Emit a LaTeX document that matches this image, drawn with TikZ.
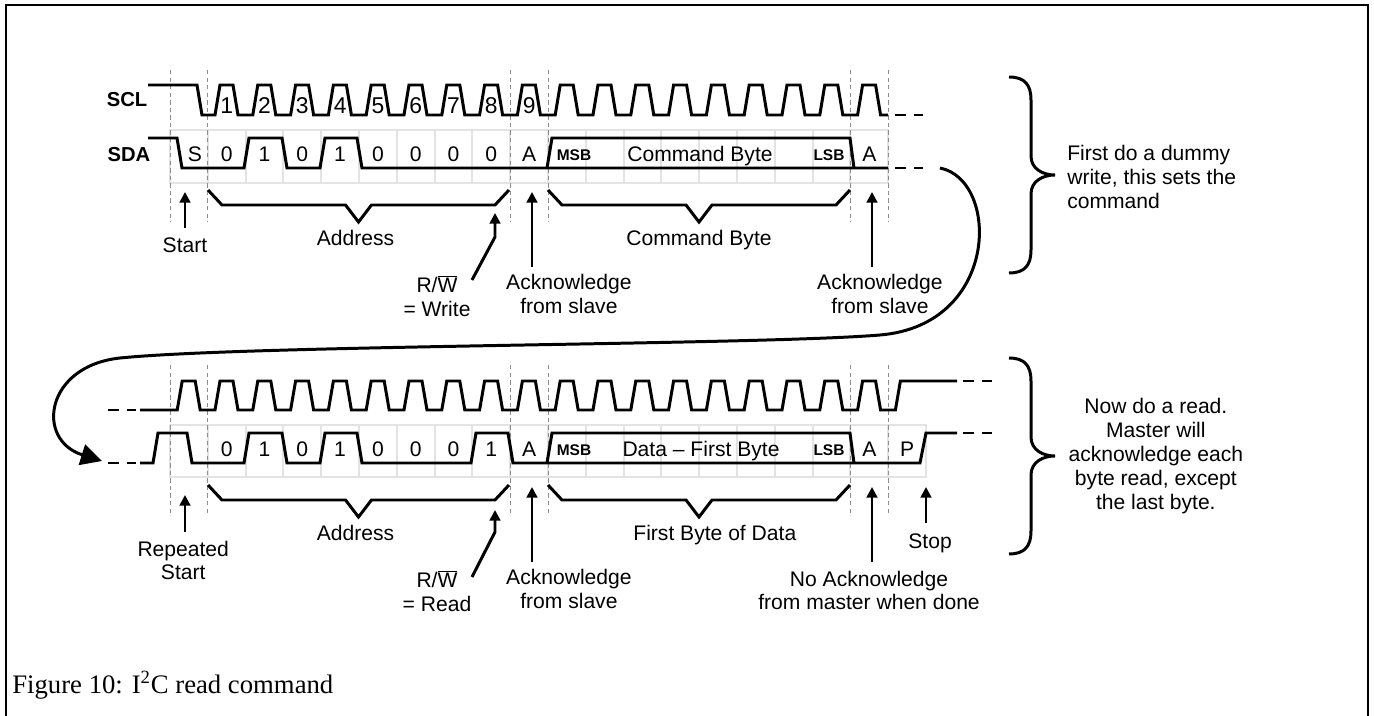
\documentclass[tikz,border=0pt]{standalone}
\usepackage{fontspec}
\setmainfont{Liberation Sans}
\newfontfamily\capfont{Liberation Serif}
\usetikzlibrary{arrows.meta,positioning}

% bus brace under a group of bits: name, x from, x to, y
\newcommand{\busbrace}[4]{%
  \draw[wave] (#2,#4) -- ++(14,15) -- ({(#2+#3)/2-13},#4+15) -- ({(#2+#3)/2},#4+32) coordinate (#1)
    -- ({(#2+#3)/2+13},#4+15) -- (#3-14,#4+15) -- (#3,#4);}
% curly brace on the right: name, x, y top, y bottom
\newcommand{\sidebrace}[4]{%
  \draw[wave] (#2,#3) .. controls (#2+16,#3) and (#2+22,#3+8) .. (#2+22,#3+23)
    -- (#2+22,{(#3+#4)/2-19}) .. controls (#2+22,{(#3+#4)/2-6}) and (#2+34,{(#3+#4)/2}) .. (#2+46,{(#3+#4)/2}) coordinate (#1)
    .. controls (#2+34,{(#3+#4)/2}) and (#2+22,{(#3+#4)/2+6}) .. (#2+22,{(#3+#4)/2+19})
    -- (#2+22,#4-23) .. controls (#2+22,#4-8) and (#2+16,#4) .. (#2,#4);}

\begin{document}
\begin{tikzpicture}[x=0.02cm, y=-0.02cm,
    wave/.style={line width=1.7pt},
    tail/.style={line width=1.7pt, dash pattern=on 6.3pt off 4.5pt},
    cell/.style={draw=black!11, line width=1.1pt},
    guide/.style={draw=black!45, line width=0.5pt, dash pattern=on 2.5pt off 1.8pt},
    ptr/.style={line width=1.7pt, -{Triangle[length=6pt,width=6pt]}},
    lbl/.style={inner sep=1pt, align=center, font=\fontsize{12}{13.6}\selectfont},
    bit/.style={inner sep=0pt, anchor=base, font=\fontsize{12}{14}\selectfont},
    clk/.style={inner sep=0pt, anchor=base, font=\fontsize{13}{15}\selectfont},
    sig/.style={inner sep=0pt, font=\bfseries\fontsize{11.5}{13}\selectfont},
    tag/.style={inner sep=0pt, anchor=base, font=\bfseries\fontsize{8.8}{10}\selectfont}]
  \useasboundingbox (0,0) rectangle (1374,716);
  \draw[line width=0.6pt] (6,716) -- (6,5) -- (1368,5) -- (1368,716);

  % ---- dummy write ----
  \foreach \k in {0,...,18} \draw[cell] ({170+37.8*\k},130) rectangle +(37.8,53);
  \foreach \k in {0,1,9,10,18,19} \draw[guide] ({170+37.8*\k},70) -- ({170+37.8*\k},222);
  \node[sig] (sclA) at (127,100) {SCL};
  \node[sig] (sdaA) at (129,155) {SDA};
  \draw[wave] (148,85) -- (197,85) -- (202,115)
    \foreach \k in {0,...,17} { -- ({215+37.8*\k},115) -- ({220+37.8*\k},85) -- ({233+37.8*\k},85) -- ({238+37.8*\k},115) }
    -- (888,115);
  \draw[tail] (895,115) -- (923,115);
  \foreach \i in {1,...,9} \node[clk] (clk\i) at ({226.7+37.8*(\i-1)},114) {\i};
  \draw[wave] (148,138) -- (177,138) -- (182,168) -- (244,168) -- (249,138) -- (282,138) -- (287,168)
    -- (320,168) -- (325,138) -- (357,138) -- (362,168) -- (888,168);
  \draw[wave] (547,168) -- (552,138) -- (850,138) -- (854,168);
  \draw[tail] (895,168) -- (923,168);
  \node[bit] (bitS) at (195,162) {S};
  \foreach \b [count=\i] in {0,1,0,1,0,0,0,0,A} \node[bit] (bitA\i) at ({170+37.8*(\i+0.5)},162) {\b};
  \node[tag] (msbA) at (574,161) {MSB};
  \node[bit] (cmdByte) at (700,162) {Command Byte};
  \node[tag] (lsbA) at (829,161) {LSB};
  \node[bit] (ackBitA) at (869.3,162) {A};

  \busbrace{addrTipA}{208}{509}{190}
  \busbrace{cmdTip}{548}{850}{190}
  \node[lbl, below=3.5pt of addrTipA, xshift=-1.7pt] (addrA) {Address};
  \node[lbl, below=3.5pt of cmdTip] (cmdA) {Command Byte};

  \coordinate (startFoot) at (185,228); \coordinate (startTip) at (185,192);
  \node[lbl, below=4.5pt of startFoot] (start) {Start};
  \draw[ptr] (startFoot) -- (startTip);
  \coordinate (rwWfoot) at (472,280); \coordinate (rwWtip) at (495,213);
  \node[lbl] (rwW) at (437,296) {R/$\overline{\mbox{W}}$\\= Write};
  \draw[ptr] (rwWfoot) -- ++(23,-43) -- (rwWtip);
  \coordinate (ackAfoot) at (532,267); \coordinate (ackAtip) at (532,192);
  \node[lbl, below=3pt of ackAfoot, xshift=21pt] (ackA) {Acknowledge\\from slave};
  \draw[ptr] (ackAfoot) -- (ackAtip);
  \coordinate (ackBfoot) at (872,267); \coordinate (ackBtip) at (872,192);
  \node[lbl, below=3pt of ackBfoot, xshift=4.5pt] (ackB) {Acknowledge\\from slave};
  \draw[ptr] (ackBfoot) -- (ackBtip);

  \sidebrace{noteTipA}{1009}{77}{273}
  \node[lbl, align=left, anchor=west, right=5.8pt of noteTipA, yshift=-1pt] (noteA) {First do a dummy\\write, this sets the\\command};

  % ---- read ----
  \foreach \k in {0,...,19} \draw[cell] ({170+37.8*\k},425) rectangle +(37.8,52);
  \foreach \k in {0,1,9,10,18,19} \draw[guide] ({170+37.8*\k},365) -- ({170+37.8*\k},515);
  \draw[tail] (108,410) -- (136,410);
  \draw[wave] (140,410)
    \foreach \k in {0,...,18} { -- ({177.2+37.8*\k},410) -- ({182.2+37.8*\k},381) -- ({195.2+37.8*\k},381) -- ({200.2+37.8*\k},410) }
    -- (895.4,410) -- (900.4,381) -- (957,381);
  \draw[tail] (963,381) -- (992,381);
  \draw[tail] (108,463) -- (136,463);
  \draw[wave] (140,463) -- (153,463) -- (158,433) -- (187,433) -- (192,463) -- (244,463) -- (249,433)
    -- (282,433) -- (287,463) -- (320,463) -- (325,433) -- (357,433) -- (362,463) -- (471,463)
    -- (476,433) -- (508,433) -- (513,463) -- (920,463) -- (926,433) -- (957,433);
  \draw[wave] (547,463) -- (552,433) -- (850,433) -- (854,463);
  \draw[tail] (963,433) -- (992,433);
  \foreach \b [count=\i] in {0,1,0,1,0,0,0,1,A} \node[bit] (bitB\i) at ({170+37.8*(\i+0.5)},457) {\b};
  \node[tag] (msbB) at (574,456) {MSB};
  \node[bit] (dataByte) at (701,457) {Data \textendash{} First Byte};
  \node[tag] (lsbB) at (829,456) {LSB};
  \node[bit] (ackBitB) at (869.3,457) {A};
  \node[bit] (stopBit) at (907.1,457) {P};

  \busbrace{addrTipB}{208}{509}{485}
  \busbrace{dataTip}{548}{850}{485}
  \node[lbl, below=3.5pt of addrTipB, xshift=-1.7pt] (addrB) {Address};
  \node[lbl, below=3.5pt of dataTip, xshift=9pt] (dataB) {First Byte of Data};

  \coordinate (rstartFoot) at (185,532); \coordinate (rstartTip) at (185,495);
  \node[lbl, below=3.8pt of rstartFoot, xshift=-1pt] (rstart) {Repeated\\Start};
  \draw[ptr] (rstartFoot) -- (rstartTip);
  \coordinate (rwRfoot) at (472,577); \coordinate (rwRtip) at (495,510);
  \node[lbl] (rwR) at (437,591) {R/$\overline{\mbox{W}}$\\= Read};
  \draw[ptr] (rwRfoot) -- ++(23,-45) -- (rwRtip);
  \coordinate (ackCfoot) at (532,562); \coordinate (ackCtip) at (532,487);
  \node[lbl, below=3pt of ackCfoot, xshift=21pt] (ackC) {Acknowledge\\from slave};
  \draw[ptr] (ackCfoot) -- (ackCtip);
  \coordinate (nackFoot) at (872,562); \coordinate (nackTip) at (872,487);
  \node[lbl, below=3.8pt of nackFoot, xshift=-1.7pt] (nack) {No Acknowledge\\from master when done};
  \draw[ptr] (nackFoot) -- (nackTip);
  \coordinate (stopFoot) at (926,523); \coordinate (stopTip) at (926,487);
  \node[lbl, below=5pt of stopFoot, xshift=2.3pt] (stop) {Stop};
  \draw[ptr] (stopFoot) -- (stopTip);

  \sidebrace{noteTipB}{1009}{358}{554}
  \node[lbl, right=6.5pt of noteTipB] (noteB) {Now do a read.\\Master will\\acknowledge each\\byte read, except\\the last byte.};

  % loop from the write over to the read
  \coordinate (loopStart) at (940,168);
  \coordinate (loopEnd) at (102,461);
  \draw[line width=1.7pt, -{Triangle[length=12pt,width=12pt]}] (loopStart)
    .. controls (1000,180) and (1000,325) .. (880,335)
    .. controls (760,345) and (250,345) .. (120,358)
    .. controls (45,366) and (35,440) .. (loopEnd);

  \node[anchor=base west, inner sep=0pt, font=\capfont\fontsize{15.2}{17}\selectfont] (caption) at (12,693)
    {Figure 10: I\textsuperscript{2}C read command};
\end{tikzpicture}
\end{document}
